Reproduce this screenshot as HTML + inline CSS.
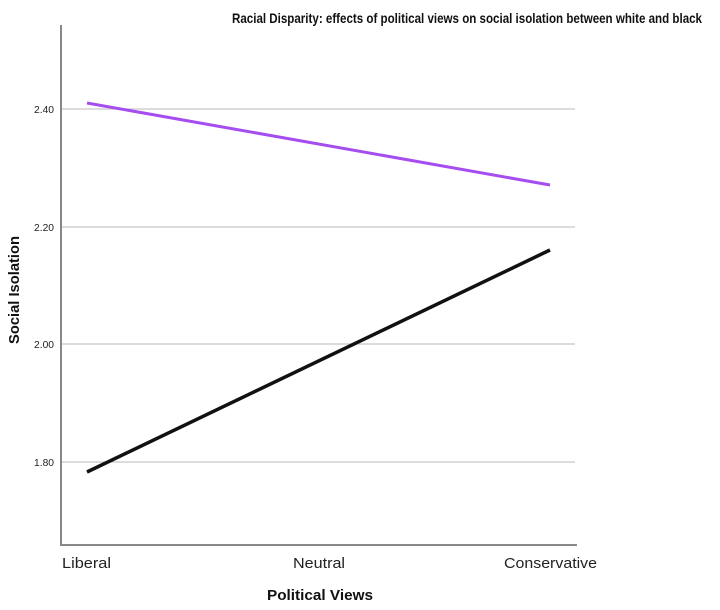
<!DOCTYPE html>
<html><head><style>
body{margin:0;background:#fff;}
svg text{font-family:"Liberation Sans",sans-serif;}
</style></head><body>
<svg width="720" height="605" viewBox="0 0 720 605" xmlns="http://www.w3.org/2000/svg">
<rect width="720" height="605" fill="#fff"/>
<text x="467" y="23" font-size="14" font-weight="bold" text-anchor="middle" fill="#111" textLength="470" lengthAdjust="spacingAndGlyphs">Racial Disparity: effects of political views on social isolation between white and black</text>
<g stroke="#c8c8c8" stroke-width="1.2">
<line x1="62" y1="109" x2="575" y2="109"/>
<line x1="62" y1="227" x2="575" y2="227"/>
<line x1="62" y1="344" x2="575" y2="344"/>
<line x1="62" y1="462" x2="575" y2="462"/>
</g>
<line x1="61" y1="25" x2="61" y2="546" stroke="#888" stroke-width="2"/>
<line x1="60" y1="545" x2="577" y2="545" stroke="#888" stroke-width="2"/>
<g font-size="10" text-anchor="end" fill="#222">
<text x="54" y="113" textLength="20" lengthAdjust="spacingAndGlyphs">2.40</text>
<text x="54" y="231" textLength="20" lengthAdjust="spacingAndGlyphs">2.20</text>
<text x="54" y="348" textLength="20" lengthAdjust="spacingAndGlyphs">2.00</text>
<text x="54" y="466" textLength="20" lengthAdjust="spacingAndGlyphs">1.80</text>
</g>
<line x1="87" y1="103" x2="550" y2="185" stroke="#a64df0" stroke-width="3"/>
<line x1="87" y1="472" x2="550" y2="250" stroke="#111" stroke-width="3.5"/>
<g font-size="15" fill="#222">
<text x="62" y="568" textLength="49" lengthAdjust="spacingAndGlyphs">Liberal</text>
<text x="319" y="568" text-anchor="middle" textLength="52" lengthAdjust="spacingAndGlyphs">Neutral</text>
<text x="597" y="568" text-anchor="end" textLength="93" lengthAdjust="spacingAndGlyphs">Conservative</text>
</g>
<text x="320" y="600" font-size="15" font-weight="bold" text-anchor="middle" fill="#111" textLength="106" lengthAdjust="spacingAndGlyphs">Political Views</text>
<text transform="translate(19,290) rotate(-90)" font-size="15" font-weight="bold" text-anchor="middle" fill="#111" textLength="108" lengthAdjust="spacingAndGlyphs">Social Isolation</text>
</svg>
</body></html>
